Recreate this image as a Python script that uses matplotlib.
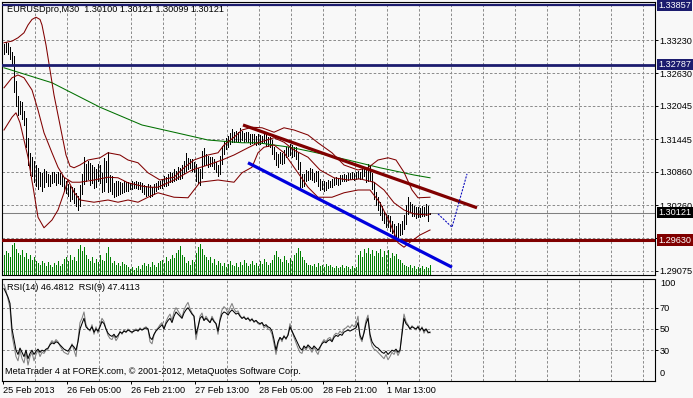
import numpy as np
import matplotlib
matplotlib.use('Agg')
import matplotlib.pyplot as plt
from matplotlib.transforms import blended_transform_factory

# EURUSD M30 bars (high / low), 25 Feb 2013 13:00 .. 1 Mar 2013 23:30
high = [
    1.3316, 1.3320, 1.3318, 1.3311, 1.3302, 1.3294, 1.3250, 1.3222, 1.3214, 1.3212,
    1.3196, 1.3182, 1.3146, 1.3120, 1.3112, 1.3106, 1.3098, 1.3092, 1.3085, 1.3084,
    1.3090, 1.3088, 1.3082, 1.3080, 1.3086, 1.3085, 1.3082, 1.3086, 1.3084, 1.3080,
    1.3074, 1.3070, 1.3064, 1.3060, 1.3058, 1.3056, 1.3048, 1.3042, 1.3062, 1.3082,
    1.3112, 1.3100, 1.3106, 1.3102, 1.3098, 1.3094, 1.3090, 1.3100, 1.3098, 1.3084,
    1.3110, 1.3106, 1.3121, 1.3080, 1.3078, 1.3066, 1.3070, 1.3070, 1.3068, 1.3066,
    1.3070, 1.3068, 1.3068, 1.3066, 1.3070, 1.3068, 1.3070, 1.3068, 1.3068, 1.3066,
    1.3062, 1.3060, 1.3063, 1.3062, 1.3058, 1.3063, 1.3066, 1.3070, 1.3069, 1.3072,
    1.3078, 1.3076, 1.3082, 1.3086, 1.3084, 1.3090, 1.3088, 1.3094, 1.3092, 1.3098,
    1.3106, 1.3120, 1.3110, 1.3108, 1.3108, 1.3103, 1.3100, 1.3092, 1.3090, 1.3124,
    1.3128, 1.3118, 1.3114, 1.3113, 1.3112, 1.3109, 1.3104, 1.3098, 1.3114, 1.3132,
    1.3142, 1.3146, 1.3150, 1.3155, 1.3162, 1.3157, 1.3160, 1.3158, 1.3164, 1.3160,
    1.3156, 1.3158, 1.3157, 1.3153, 1.3154, 1.3154, 1.3151, 1.3153, 1.3152, 1.3151,
    1.3154, 1.3153, 1.3149, 1.3148, 1.3143, 1.3130, 1.3122, 1.3117, 1.3121, 1.3120,
    1.3125, 1.3131, 1.3131, 1.3136, 1.3134, 1.3131, 1.3130, 1.3122, 1.3104, 1.3082,
    1.3082, 1.3089, 1.3087, 1.3092, 1.3090, 1.3083, 1.3088, 1.3087, 1.3072, 1.3070,
    1.3069, 1.3067, 1.3071, 1.3070, 1.3072, 1.3074, 1.3076, 1.3075, 1.3080, 1.3080,
    1.3081, 1.3080, 1.3083, 1.3083, 1.3085, 1.3084, 1.3085, 1.3088, 1.3086, 1.3090,
    1.3092, 1.3090, 1.3100, 1.3097, 1.3083, 1.3068, 1.3050, 1.3041, 1.3032, 1.3024,
    1.3014, 1.3010, 1.3008, 1.3006, 1.2997, 1.2992, 1.2989, 1.2993, 1.2992, 1.2998,
    1.3008, 1.3026, 1.3040, 1.3032, 1.3027, 1.3024, 1.3022, 1.3022, 1.3021, 1.3024,
    1.3023, 1.3027, 1.3025, 1.30121]
low = [
    1.3298, 1.3302, 1.3298, 1.3288, 1.3278, 1.3230, 1.3204, 1.3188, 1.3190, 1.3180,
    1.3170, 1.3130, 1.3098, 1.3080, 1.3078, 1.3068, 1.3060, 1.3055, 1.3060, 1.3052,
    1.3058, 1.3068, 1.3060, 1.3060, 1.3066, 1.3068, 1.3062, 1.3066, 1.3064, 1.3060,
    1.3052, 1.3048, 1.3042, 1.3034, 1.3036, 1.3030, 1.3025, 1.3017, 1.3024, 1.3046,
    1.3064, 1.3070, 1.3072, 1.3062, 1.3066, 1.3056, 1.3058, 1.3070, 1.3066, 1.3050,
    1.3052, 1.3068, 1.3049, 1.3052, 1.3046, 1.3040, 1.3042, 1.3044, 1.3046, 1.3048,
    1.3050, 1.3052, 1.3052, 1.3054, 1.3055, 1.3056, 1.3057, 1.3054, 1.3055, 1.3050,
    1.3046, 1.3042, 1.3044, 1.3040, 1.3042, 1.3046, 1.3052, 1.3055, 1.3056, 1.3057,
    1.3060, 1.3060, 1.3062, 1.3068, 1.3068, 1.3070, 1.3071, 1.3072, 1.3073, 1.3074,
    1.3083, 1.3088, 1.3090, 1.3092, 1.3088, 1.3085, 1.3070, 1.3066, 1.3062, 1.3074,
    1.3098, 1.3100, 1.3095, 1.3096, 1.3097, 1.3091, 1.3085, 1.3078, 1.3082, 1.3100,
    1.3118, 1.3127, 1.3131, 1.3136, 1.3140, 1.3139, 1.3141, 1.3141, 1.3142, 1.3143,
    1.3140, 1.3141, 1.3140, 1.3136, 1.3137, 1.3138, 1.3134, 1.3135, 1.3136, 1.3137,
    1.3139, 1.3132, 1.3133, 1.3131, 1.3118, 1.3108, 1.3098, 1.3095, 1.3101, 1.3100,
    1.3102, 1.3112, 1.3114, 1.3116, 1.3113, 1.3114, 1.3109, 1.3090, 1.3056, 1.3058,
    1.3061, 1.3069, 1.3071, 1.3072, 1.3071, 1.3067, 1.3069, 1.3060, 1.3053, 1.3054,
    1.3052, 1.3053, 1.3057, 1.3059, 1.3059, 1.3062, 1.3064, 1.3062, 1.3063, 1.3070,
    1.3070, 1.3070, 1.3071, 1.3073, 1.3074, 1.3071, 1.3072, 1.3075, 1.3073, 1.3074,
    1.3078, 1.3068, 1.3070, 1.3071, 1.3054, 1.3036, 1.3026, 1.3017, 1.3008, 1.2999,
    1.2993, 1.2986, 1.2987, 1.2980, 1.2975, 1.2970, 1.2964, 1.2969, 1.2972, 1.2974,
    1.2983, 1.2992, 1.3010, 1.3014, 1.3006, 1.3007, 1.3003, 1.3004, 1.3005, 1.3006,
    1.3006, 1.3008, 1.2998, 1.30099]

# tick volume per bar
volume = [
    2000, 2400, 2200, 1800, 3000, 3200, 2600,
    2200, 2000, 2500, 1800, 2200, 1600, 2000, 1500, 1800, 1400, 1200,
    1000, 1400, 1200, 900, 1300, 1000, 800, 1200, 1000, 1400, 900, 1100,
    1600, 1800, 1400, 2000, 1500, 1800, 1400,
    2600, 3000, 2400, 2800, 2000, 1600,
    1400, 1800, 1200, 1600, 1300, 2000, 1500, 1400, 2200, 2800,
    1800, 1200, 1400, 1000, 1200, 900, 1300, 1100, 1000, 800,
    600, 800, 500, 700, 900, 600,
    1000, 1200, 900, 1100, 800, 1300, 1000, 800, 1200, 1400,
    1500, 1200, 1800, 1400, 1600, 2000, 1700,
    2200, 2500, 2900, 2000, 1800,
    1200, 1400, 1000, 1500, 1300,
    2200, 2800, 3100, 2600, 2000, 1800,
    1500, 1800, 1200, 1600, 1000, 1400, 1200,
    900, 1200, 800, 1100, 1400, 1000, 900, 1200, 800,
    1300, 1000, 1500, 1200, 900, 1100, 1400, 1000, 1200, 900,
    1400, 1100, 1600, 1300, 1000, 1200, 1500, 2000, 2400, 1800,
    1600, 1300, 1900, 1500, 1200, 1700, 1400, 2000, 2200,
    2700, 2400, 1800, 1500, 1200, 1000,
    1000, 900, 1100, 800, 1200, 900, 1000, 800, 1100, 900, 1000, 800, 700,
    900, 700, 800, 1000, 700, 900, 800, 600, 900, 700, 800,
    2000, 2400, 1800, 2600, 2200, 2700, 2100, 2500, 1900, 2400,
    2200, 2600, 1800, 2400, 2000, 2500, 1700, 2200, 1900, 2100, 1600, 1500,
    1200, 1000, 900, 800, 1000, 700, 900, 600, 800, 700, 900, 600, 800, 700, 1000]

rsi14 = [
    88, 84, 80, 74, 50, 40, 30, 26, 32,
    28, 24, 30, 22, 27, 30, 26,
    29, 31, 28, 30, 29, 31, 32,
    35, 37, 36, 38, 37, 35,
    33, 31, 30, 29, 32, 35,
    33, 30, 38,
    50, 55, 60, 52, 50,
    49, 52, 47, 50, 48, 52,
    57, 55, 50, 46,
    44, 43, 45, 42, 44,
    47, 46, 48, 47, 49, 48, 47, 48, 49, 48, 50, 49, 50, 51, 50,
    42, 40, 45,
    48, 50, 52, 54, 50, 55,
    58, 60, 56, 62, 66, 64,
    62, 60, 65, 68, 70, 67, 64, 62,
    45,
    52, 60, 62, 58, 60, 58, 56, 60, 57, 55,
    48,
    58, 64, 66, 65, 63, 66, 68, 66, 64, 65,
    62, 60, 61, 59, 60, 58, 59, 57, 58, 56,
    55, 56, 53, 54, 52, 51, 48,
    40, 30, 38,
    42, 40, 43, 41, 44,
    52,
    48, 44, 40, 36, 32, 30,
    34, 32, 35, 33, 31, 34, 32, 30, 33,
    36, 38, 37, 39, 40, 38,
    42, 44, 43, 45, 44,
    47, 48, 49, 48, 49,
    50, 51, 56,
    44, 40, 46,
    55, 60,
    45, 38, 35, 33,
    32, 30, 28, 27, 29, 26, 28,
    30, 29, 31, 28, 30,
    45, 60,
    55, 53, 50, 52, 51,
    50, 52, 49, 51, 48,
    50, 47, 46.48]
rsi9 = [
    92, 86, 78, 70, 44, 34, 24, 20, 30,
    22, 18, 28, 16, 24, 28, 20,
    26, 30, 24, 28, 27, 30, 31,
    36, 39, 37, 40, 38, 34,
    31, 28, 27, 26, 30, 36,
    30, 24, 40,
    56, 60, 66, 54, 50,
    48, 54, 45, 52, 46, 54,
    60, 57, 50, 44,
    41, 40, 44, 39, 42,
    48, 45, 49, 47, 50, 48, 46, 49, 50, 48, 51, 49, 51, 52, 50,
    38, 36, 44,
    49, 51, 54, 56, 50, 57,
    61, 64, 58, 66, 70, 67,
    64, 61, 68, 72, 75, 69, 65, 62,
    40,
    50, 62, 65, 58, 62, 59, 56, 62, 58, 55,
    45,
    60, 68, 71, 69, 65, 70, 74, 69, 66, 67,
    63, 60, 62, 59, 61, 57, 60, 56, 58, 55,
    54, 56, 51, 53, 50, 49, 45,
    36, 26, 36,
    42, 38, 44, 40, 45,
    55,
    48, 42, 37, 32, 28, 27,
    33, 30, 34, 31, 28, 33, 29, 26, 32,
    37, 40, 38, 41, 42, 39,
    44, 46, 45, 48, 46,
    50, 51, 53, 51, 54,
    52, 55, 62,
    42, 38, 48,
    58, 63,
    42, 34, 31, 30,
    28, 26, 24, 22, 26, 21, 24,
    28, 26, 30, 25, 29,
    48, 64,
    57, 54, 50, 53, 51,
    49, 53, 48, 52, 46,
    50, 46, 47.41]

# Bollinger bands and moving average, read at sample bars
upper_idx = [0, 4, 7, 10, 12, 14, 16, 18, 19, 21, 23, 25, 27, 29, 31, 33, 35, 38, 42, 48,
             52, 58, 62, 67, 72, 78, 85, 90, 95, 102, 107, 110, 115, 119, 124, 129, 135, 140,
             145, 152, 157, 164, 170, 177, 182, 187, 192, 196, 200, 204, 207, 213]
bb_upper = [1.3318, 1.3321, 1.3327, 1.3336, 1.3350, 1.3360, 1.3364, 1.3360, 1.3350, 1.3314,
            1.3269, 1.3224, 1.3188, 1.3152, 1.3116, 1.3096, 1.3093, 1.3098, 1.3107, 1.3111,
            1.3120, 1.3116, 1.3107, 1.3102, 1.3084, 1.3071, 1.3076, 1.3093, 1.3107, 1.3116,
            1.3120, 1.3134, 1.3148, 1.3161, 1.3166, 1.3165, 1.3157, 1.3165, 1.3161, 1.3152,
            1.3138, 1.3120, 1.3098, 1.3089, 1.3093, 1.3107, 1.3111, 1.3107, 1.3085, 1.3053,
            1.3039, 1.3040]
mid_idx = [0, 4, 7, 10, 14, 17, 20, 24, 27, 30, 34, 38, 45, 52, 57, 62, 69, 73, 77, 85,
           94, 102, 109, 115, 122, 127, 135, 140, 145, 152, 158, 165, 172, 178, 185, 190,
           195, 200, 205, 212, 213]
bb_mid = [1.3237, 1.3255, 1.3260, 1.3255, 1.3233, 1.3197, 1.3156, 1.3120, 1.3094, 1.3076,
          1.3067, 1.3067, 1.3071, 1.3076, 1.3075, 1.3066, 1.3060, 1.3058, 1.3058, 1.3071,
          1.3089, 1.3098, 1.3107, 1.3116, 1.3129, 1.3138, 1.3147, 1.3139, 1.3125, 1.3112,
          1.3089, 1.3075, 1.3071, 1.3073, 1.3067, 1.3053, 1.3030, 1.3017, 1.3010, 1.3008,
          1.3010]
lower_idx = [0, 4, 6, 8, 12, 15, 17, 20, 24, 27, 30, 32, 35, 38, 45, 52, 57, 62, 67, 72,
             77, 85, 92, 98, 107, 115, 119, 124, 127, 130, 135, 140, 145, 152, 157, 164,
             170, 177, 183, 188, 193, 197, 200, 203, 208, 213]
bb_lower = [1.3161, 1.3184, 1.3192, 1.3174, 1.3112, 1.3048, 1.3004, 1.2985, 1.2999, 1.3017,
            1.3048, 1.3071, 1.3049, 1.3035, 1.3031, 1.3035, 1.3031, 1.3035, 1.3031, 1.3040,
            1.3048, 1.3040, 1.3039, 1.3067, 1.3071, 1.3067, 1.3084, 1.3094, 1.3120, 1.3130,
            1.3134, 1.3120, 1.3094, 1.3058, 1.3040, 1.3040, 1.3048, 1.3053, 1.3053, 1.3030,
            1.2994, 1.2958, 1.2950, 1.2959, 1.2972, 1.2981]
ma_idx = [0, 8, 24, 48, 69, 85, 102, 119, 127, 143, 155, 172, 188, 205, 213]
ma = [1.3273, 1.3264, 1.3246, 1.3202, 1.3170, 1.3157, 1.3143, 1.3138, 1.3138, 1.3130,
      1.3121, 1.3107, 1.3093, 1.3080, 1.3075]

# drawn objects
red_trend = ([119.5, 236.5], [1.3170, 1.3021])
blue_trend = ([122, 224], [1.3102, 1.2914])
blue_path = ([217, 224, 231.5], [1.3010, 1.2986, 1.3082])
levels = {1.33857: '#1c1c6e', 1.32787: '#1c1c6e', 1.30121: '#000000', 1.29630: '#800000'}

price_ticks = [1.33230, 1.32630, 1.32045, 1.31445, 1.30860, 1.30260, 1.29675, 1.29075]
price_labels = ['1.33230', '1.32630', '1.32045', '1.31445', '1.30860', '1.30260', '', '1.29075']
date_pos = [-0.5, 31.5, 63.5, 95.5, 127.5, 159.5, 191.5]
date_labels = ['25 Feb 2013', '26 Feb 05:00', '26 Feb 21:00', '27 Feb 13:00',
               '28 Feb 05:00', '28 Feb 21:00', '1 Mar 13:00']

plt.rcParams['font.family'] = ['Liberation Sans', 'DejaVu Sans']
FS = 6.6
BG = '#f8f8f8'
GRID = dict(color='#8a8a8a', linestyle=(0, (2.6, 2.0)), linewidth=0.7)
W, H = 693, 398


def rect(l, t, r, b):
    return [l / W, 1 - b / H, (r - l) / W, (b - t) / H]


fig = plt.figure(figsize=(W / 100, H / 100), dpi=100, facecolor=BG)
ax = fig.add_axes(rect(2, 2, 655, 275), facecolor=BG)
rs = fig.add_axes(rect(2, 278.5, 655, 381), facecolor=BG)

idx = np.arange(len(high))
XL = (-1, 325.5)
grid_x = np.arange(15.5, 325, 16)

# main price window
ax.set_xlim(*XL)
ax.set_ylim(1.29000, 1.33914)
ax.set_xticks(grid_x)
ax.tick_params(axis='x', length=0, labelbottom=False)
ax.yaxis.tick_right()
ax.set_yticks(price_ticks, price_labels)
ax.tick_params(axis='y', length=2.2, width=0.7, pad=1, labelsize=FS)
ax.grid(True, **GRID)
ax.set_axisbelow(True)
for s in ax.spines.values():
    s.set_linewidth(0.8)

vol_tr = blended_transform_factory(ax.transData, ax.transAxes)
ax.vlines(idx, 0, np.array(volume) / 27300, transform=vol_tr, colors='#008000', lw=0.5,
          antialiased=False, zorder=2)
ax.vlines(idx, low, high, colors='black', lw=0.5, antialiased=False, zorder=3)
ax.plot(ma_idx, ma, color='#007000', lw=0.75, zorder=4)
for xi, yi in [(upper_idx, bb_upper), (mid_idx, bb_mid), (lower_idx, bb_lower)]:
    ax.plot(xi, yi, color='#800000', lw=0.75, zorder=4)

ax.axhline(1.33857, color='#1c1c6e', lw=1.6, zorder=5)
ax.axhline(1.32787, color='#1c1c6e', lw=2.0, zorder=5)
ax.axhline(1.30121, color='#808080', lw=0.75, zorder=2)
ax.axhline(1.29630, color='#800000', lw=2.2, zorder=5)
ax.plot(*red_trend, color='#800000', lw=2.3, solid_capstyle='butt', zorder=6)
ax.plot(*blue_trend, color='#0000dd', lw=2.3, solid_capstyle='butt', zorder=6)
ax.plot(*blue_path, color='#0000bb', lw=0.75, linestyle=(0, (2, 1.2)), zorder=6)

lab_tr = blended_transform_factory(ax.transAxes, ax.transData)
for price, col in levels.items():
    ax.text(1 + 3.5 / 653, price, f'{price:.5f}', transform=lab_tr, color='white', fontsize=FS,
            va='center', ha='left', clip_on=False, zorder=10,
            bbox=dict(boxstyle='square,pad=0.12', fc=col, ec='none'))

# RSI window
rs.set_xlim(*XL)
rs.set_ylim(1, 97.5)
rs.plot(idx, rsi9, color='#808080', lw=0.75)
rs.plot(idx, rsi14, color='black', lw=0.75)
rs.yaxis.tick_right()
rs.set_yticks([70, 50, 30], ['70', '50', '30'])
rs.tick_params(axis='y', length=2.2, width=0.7, pad=1, labelsize=FS)
rs.set_xticks(date_pos, date_labels)
rs.set_xticks(grid_x, minor=True)
rs.tick_params(axis='x', which='major', length=2.2, width=0.7, pad=1.5, labelsize=FS)
rs.tick_params(axis='x', which='minor', length=0)
for lbl in rs.get_xticklabels():
    lbl.set_horizontalalignment('left')
rs.grid(True, axis='y', **GRID)
rs.grid(True, axis='x', which='minor', **GRID)
rs.set_axisbelow(True)
for s in rs.spines.values():
    s.set_linewidth(0.8)

fig.text(660 / W, 1 - 283 / H, '100', fontsize=FS, va='center', ha='left')
fig.text(660 / W, 1 - 374 / H, '0', fontsize=FS, va='center', ha='left')

fig.text(7 / W, 1 - 10 / H, 'EURUSDpro,M30  1.30100 1.30121 1.30099 1.30121',
         fontsize=FS, va='center', ha='left')
fig.text(7 / W, 1 - 288 / H, 'RSI(14) 46.4812  RSI(9) 47.4113', fontsize=FS, va='center', ha='left')
fig.text(5 / W, 1 - 372 / H, 'MetaTrader 4 at FOREX.com, \u00a9 2001-2012, MetaQuotes Software Corp.',
         fontsize=FS, va='center', ha='left')

fig.savefig('out.png', dpi=100, facecolor=BG)
